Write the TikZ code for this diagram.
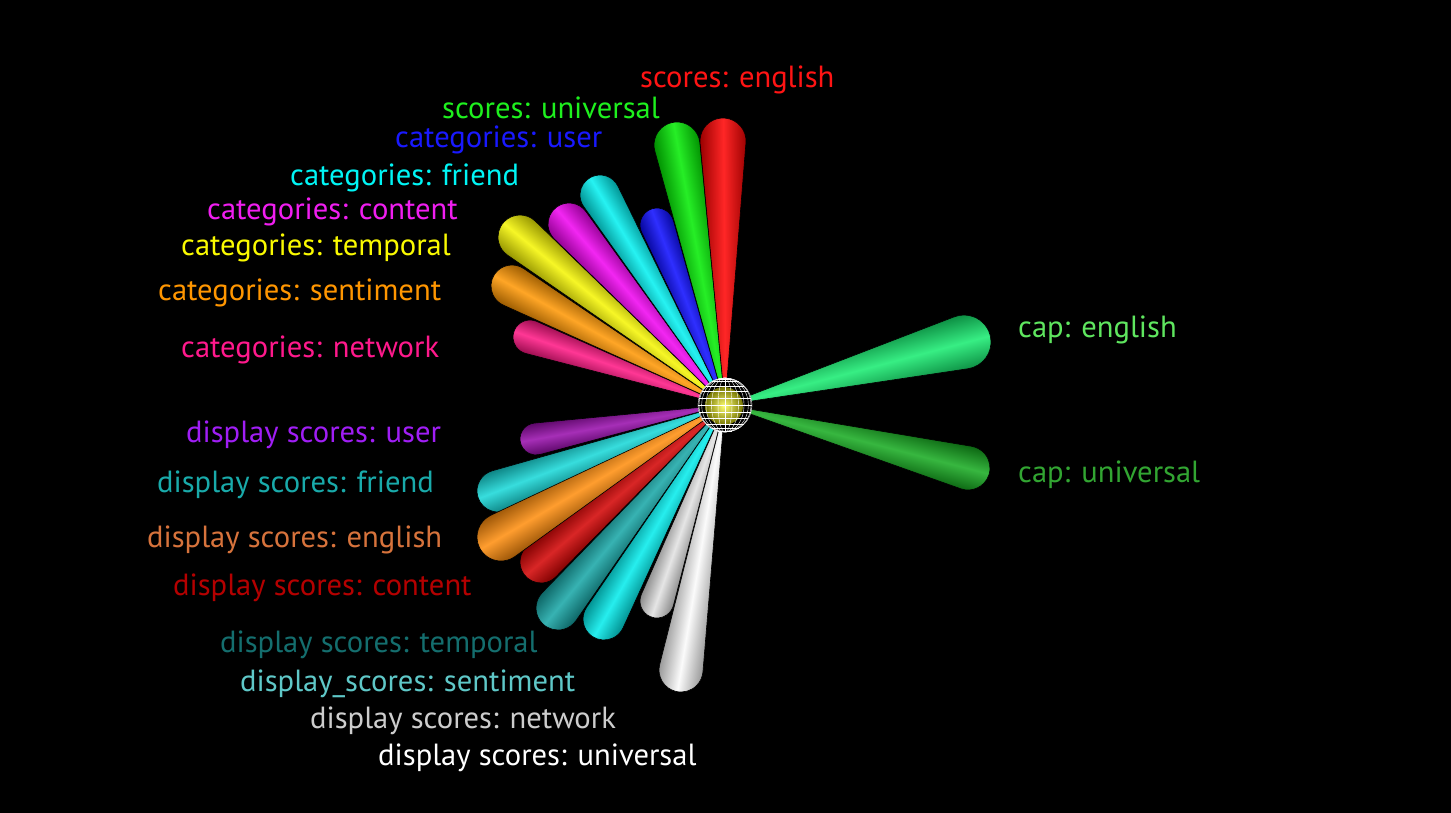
\documentclass[tikz,border=0pt]{standalone}
\usepackage{fontspec}
\setmainfont{PT Sans}
\definecolor{cRed}{RGB}{255,0,0}
\definecolor{cGreen}{RGB}{0,235,0}
\definecolor{cBlue}{RGB}{10,10,255}
\definecolor{cCyan}{RGB}{0,240,240}
\definecolor{cMag}{RGB}{240,0,240}
\definecolor{cYel}{RGB}{245,245,0}
\definecolor{cOra}{RGB}{255,150,0}
\definecolor{cPink}{RGB}{255,20,130}
\definecolor{cPur}{RGB}{150,10,170}
\definecolor{cFri}{RGB}{20,215,215}
\definecolor{cEng}{RGB}{255,140,10}
\definecolor{cCon}{RGB}{210,0,0}
\definecolor{cTem}{RGB}{20,165,165}
\definecolor{cSen}{RGB}{0,235,235}
\definecolor{cNet}{RGB}{225,225,225}
\definecolor{cUni}{RGB}{250,250,250}
\definecolor{cCapE}{RGB}{20,235,110}
\definecolor{cCapU}{RGB}{20,170,30}
% text colours
\definecolor{tRed}{RGB}{255,20,20}
\definecolor{tGreen}{RGB}{30,240,30}
\definecolor{tBlue}{RGB}{25,25,255}
\definecolor{tCyan}{RGB}{0,245,245}
\definecolor{tMag}{RGB}{240,30,240}
\definecolor{tYel}{RGB}{250,250,0}
\definecolor{tOra}{RGB}{255,150,0}
\definecolor{tPink}{RGB}{255,25,140}
\definecolor{tPur}{RGB}{160,30,245}
\definecolor{tFri}{RGB}{25,170,170}
\definecolor{tEng}{RGB}{215,115,60}
\definecolor{tCon}{RGB}{180,0,0}
\definecolor{tTem}{RGB}{20,110,110}
\definecolor{tSen}{RGB}{95,200,200}
\definecolor{tNet}{RGB}{205,205,205}
\definecolor{tUni}{RGB}{255,255,255}
\definecolor{tCapE}{RGB}{95,230,95}
\definecolor{tCapU}{RGB}{50,165,50}
\newcommand\mycone[4]{%
  \pgfmathsetmacro\cdx{#2-725}%
  \pgfmathsetmacro\cdy{405-#3}%
  \pgfmathsetmacro\cL{veclen(\cdx,\cdy)}%
  \pgfmathsetmacro\cth{atan2(\cdy,\cdx)}%
  \pgfmathsetmacro\cal{asin(#4/\cL)}%
  \begin{scope}[transform canvas={shift={(725,405)},rotate=\cth}]
    \shade[conestyle, top color=#1!60!black, bottom color=#1!60!black, middle color=#1!85!white]
      (0,0) -- ({\cL-#4*sin(\cal)},{#4*cos(\cal)})
      arc[start angle=90+\cal, end angle=-90-\cal, radius=#4] -- cycle;
  \end{scope}}
\begin{document}
\begin{tikzpicture}[x=1pt,y=-1pt,
  conestyle/.style={draw=black, line width=0.6pt},
  lab/.style={anchor=base west, inner sep=0pt, font=\fontsize{30.6}{33}\selectfont},
  wire/.style={draw=white, line width=0.4pt}]
\useasboundingbox (0,0) rectangle (1451,812);
\fill[black] (-10,-10) rectangle (1461,822);
% upper fan
\mycone{cPink}{530}{337}{17}
\mycone{cOra}{512}{286}{21}
\mycone{cYel}{520}{237}{22}
\mycone{cMag}{569}{224}{21}
\mycone{cBlue}{657}{225}{17}
\mycone{cCyan}{600}{195}{20}
\mycone{cGreen}{677}{145}{23}
\mycone{cRed}{723}{141}{23}
% lower fan
\mycone{cPur}{536}{439}{16}
\mycone{cFri}{498}{491}{21}
\mycone{cCon}{541}{562}{21}
\mycone{cEng}{501}{537}{24}
\mycone{cTem}{558}{608}{22}
\mycone{cSen}{604}{619}{21}
\mycone{cNet}{657}{601}{17}
\mycone{cUni}{681}{670}{22}
% right cones
\mycone{cCapE}{964}{342}{27}
\mycone{cCapU}{968}{468}{22}
% central sphere
\fill[black] (725,405) circle[radius=27];
\shade[inner color=yellow!55!white, outer color=yellow!45!black] (724,406) circle[radius=19];
\draw[wire] (725,405) circle[radius=27];
\foreach \a in {15,30,45,60,75}{
  \draw[wire] (725,405) ellipse[x radius={27*cos(\a)}, y radius=27];
  \draw[wire] ({725-27*cos(\a)},{405+27*sin(\a)}) -- ({725+27*cos(\a)},{405+27*sin(\a)});
  \draw[wire] ({725-27*cos(\a)},{405-27*sin(\a)}) -- ({725+27*cos(\a)},{405-27*sin(\a)});
}
\draw[wire] (725,378) -- (725,432);
\draw[wire] (698,405) -- (752,405);
% labels
\node[lab, text=tRed] (l1) at (640,87) {scores: english};
\node[lab, text=tGreen] (l2) at (442,118) {scores: universal};
\node[lab, text=tBlue] (l3) at (395,147) {categories: user};
\node[lab, text=tCyan] (l4) at (290,185) {categories: friend};
\node[lab, text=tMag] (l5) at (207,219) {categories: content};
\node[lab, text=tYel] (l6) at (181,255) {categories: temporal};
\node[lab, text=tOra] (l7) at (158,300) {categories: sentiment};
\node[lab, text=tPink] (l8) at (181,357) {categories: network};
\node[lab, text=tPur] (l9) at (186,442) {display scores: user};
\node[lab, text=tFri] (l10) at (157,492) {display scores: friend};
\node[lab, text=tEng] (l11) at (147,547) {display scores: english};
\node[lab, text=tCon] (l12) at (173,595) {display scores: content};
\node[lab, text=tTem] (l13) at (220,652) {display scores: temporal};
\node[lab, text=tSen] (l14) at (240,691) {display\_scores: sentiment};
\node[lab, text=tNet] (l15) at (310,728) {display scores: network};
\node[lab, text=tUni] (l16) at (378,765) {display scores: universal};
\node[lab, text=tCapE] (l17) at (1018,337) {cap: english};
\node[lab, text=tCapU] (l18) at (1018,482) {cap: universal};
\end{tikzpicture}
\end{document}
